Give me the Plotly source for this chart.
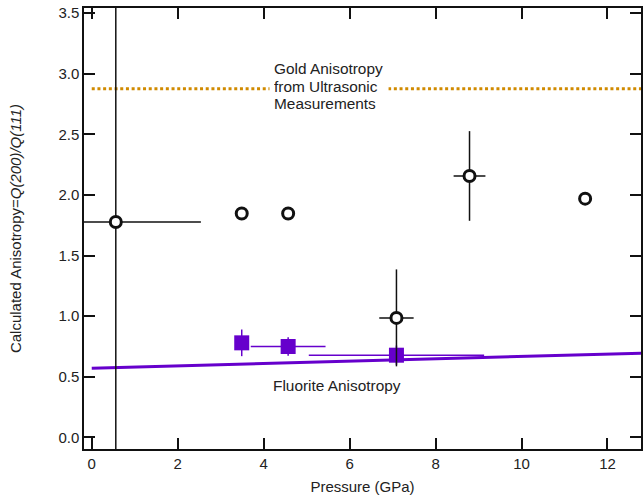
import plotly.graph_objects as go

# Gold (open circles) data
gold_p = [0.56, 3.49, 4.57, 7.09, 8.79, 11.48]
gold_a = [1.777, 1.847, 1.847, 0.986, 2.157, 1.97]
gold_perr = [1.98, 0.05, 0.05, 0.40, 0.37, 0.05]
gold_aerr = [4.0, 0.03, 0.03, 0.40, 0.37, 0.03]

# Fluorite (filled squares) data
fl_p = [3.49, 4.57, 7.09]
fl_a = [0.78, 0.75, 0.678]
fl_perr = [0.1, 0.87, 2.04]
fl_aerr = [0.11, 0.077, 0.08]

# Fluorite anisotropy line
fl_line_p = [0.0, 13.0]
fl_line_a = [0.57, 0.697]

# Gold ultrasonic anisotropy
gold_us_p = [0.0, 13.5]
gold_us_a = [2.877, 2.877]

purple = "#6600CC"
gold_col = "#D08A00"
black = "#111111"
font = "Liberation Sans, Arial, sans-serif"

fig = go.Figure()

fig.add_trace(go.Scatter(x=gold_us_p, y=gold_us_a, mode="lines",
                         line=dict(color=gold_col, width=3, dash="3px,2.7px"),
                         showlegend=False, hoverinfo="skip"))

fig.add_trace(go.Scatter(x=fl_line_p, y=fl_line_a, mode="lines",
                         line=dict(color=purple, width=3),
                         showlegend=False, hoverinfo="skip"))

fig.add_trace(go.Scatter(x=fl_p, y=fl_a, mode="markers",
                         marker=dict(symbol="square", size=15, color=purple,
                                     line=dict(width=0)),
                         error_x=dict(type="data", array=fl_perr, color=purple,
                                      thickness=1.5, width=0),
                         error_y=dict(type="data", array=fl_aerr, color=purple,
                                      thickness=1.5, width=0),
                         showlegend=False))

fig.add_trace(go.Scatter(x=gold_p, y=gold_a, mode="markers",
                         marker=dict(symbol="circle", size=11, color="white",
                                     line=dict(width=3, color=black)),
                         error_x=dict(type="data", array=gold_perr, color=black,
                                      thickness=1.5, width=0),
                         error_y=dict(type="data", array=gold_aerr, color=black,
                                      thickness=1.5, width=0),
                         showlegend=False))

ann_font = dict(family=font, size=15.4, color="#222222")
# middle line first (with white background hiding the dotted line), then the others
gold_lines = ["from Ultrasonic", "Gold Anisotropy", "Measurements"]
gold_ys = [2.896, 3.045, 2.753]
gold_bg = ["white", "rgba(0,0,0,0)", "rgba(0,0,0,0)"]
for txt, yy, bg in zip(gold_lines, gold_ys, gold_bg):
    fig.add_annotation(x=4.13, y=yy, xref="x", yref="y", text=txt,
                       showarrow=False, xanchor="left", yanchor="middle",
                       align="left", font=ann_font, bgcolor=bg,
                       borderpad=4, width=110)

fig.add_annotation(x=4.18, y=0.431, xref="x", yref="y", text="Fluorite Anisotropy",
                   showarrow=False, xanchor="left", yanchor="middle",
                   font=ann_font)

axis_common = dict(showline=True, linecolor=black, linewidth=1.5,
                   ticks="inside", ticklen=11, tickwidth=1.5, tickcolor=black,
                   mirror="ticks", showgrid=False, zeroline=False,
                   tickfont=dict(family=font, size=15, color="#222222"))

fig.update_xaxes(range=[-0.18, 12.78], tickvals=[0, 2, 4, 6, 8, 10, 12],
                 title=dict(text="Pressure (GPa)", font=dict(family=font, size=15, color="#222222"),
                            standoff=11),
                 **axis_common)
fig.update_yaxes(range=[-0.096, 3.543],
                 tickvals=[0, 0.5, 1.0, 1.5, 2.0, 2.5, 3.0, 3.5], tickformat=".1f",
                 title=dict(text="Calculated Anisotropy=<i>Q(200)/Q(111)</i>",
                            font=dict(family=font, size=15, color="#222222"),
                            standoff=33),
                 **axis_common)

fig.update_layout(width=643, height=498,
                  margin=dict(l=84, r=0, t=8, b=49),
                  plot_bgcolor="white", paper_bgcolor="white",
                  showlegend=False)

fig.write_html("out.html")
